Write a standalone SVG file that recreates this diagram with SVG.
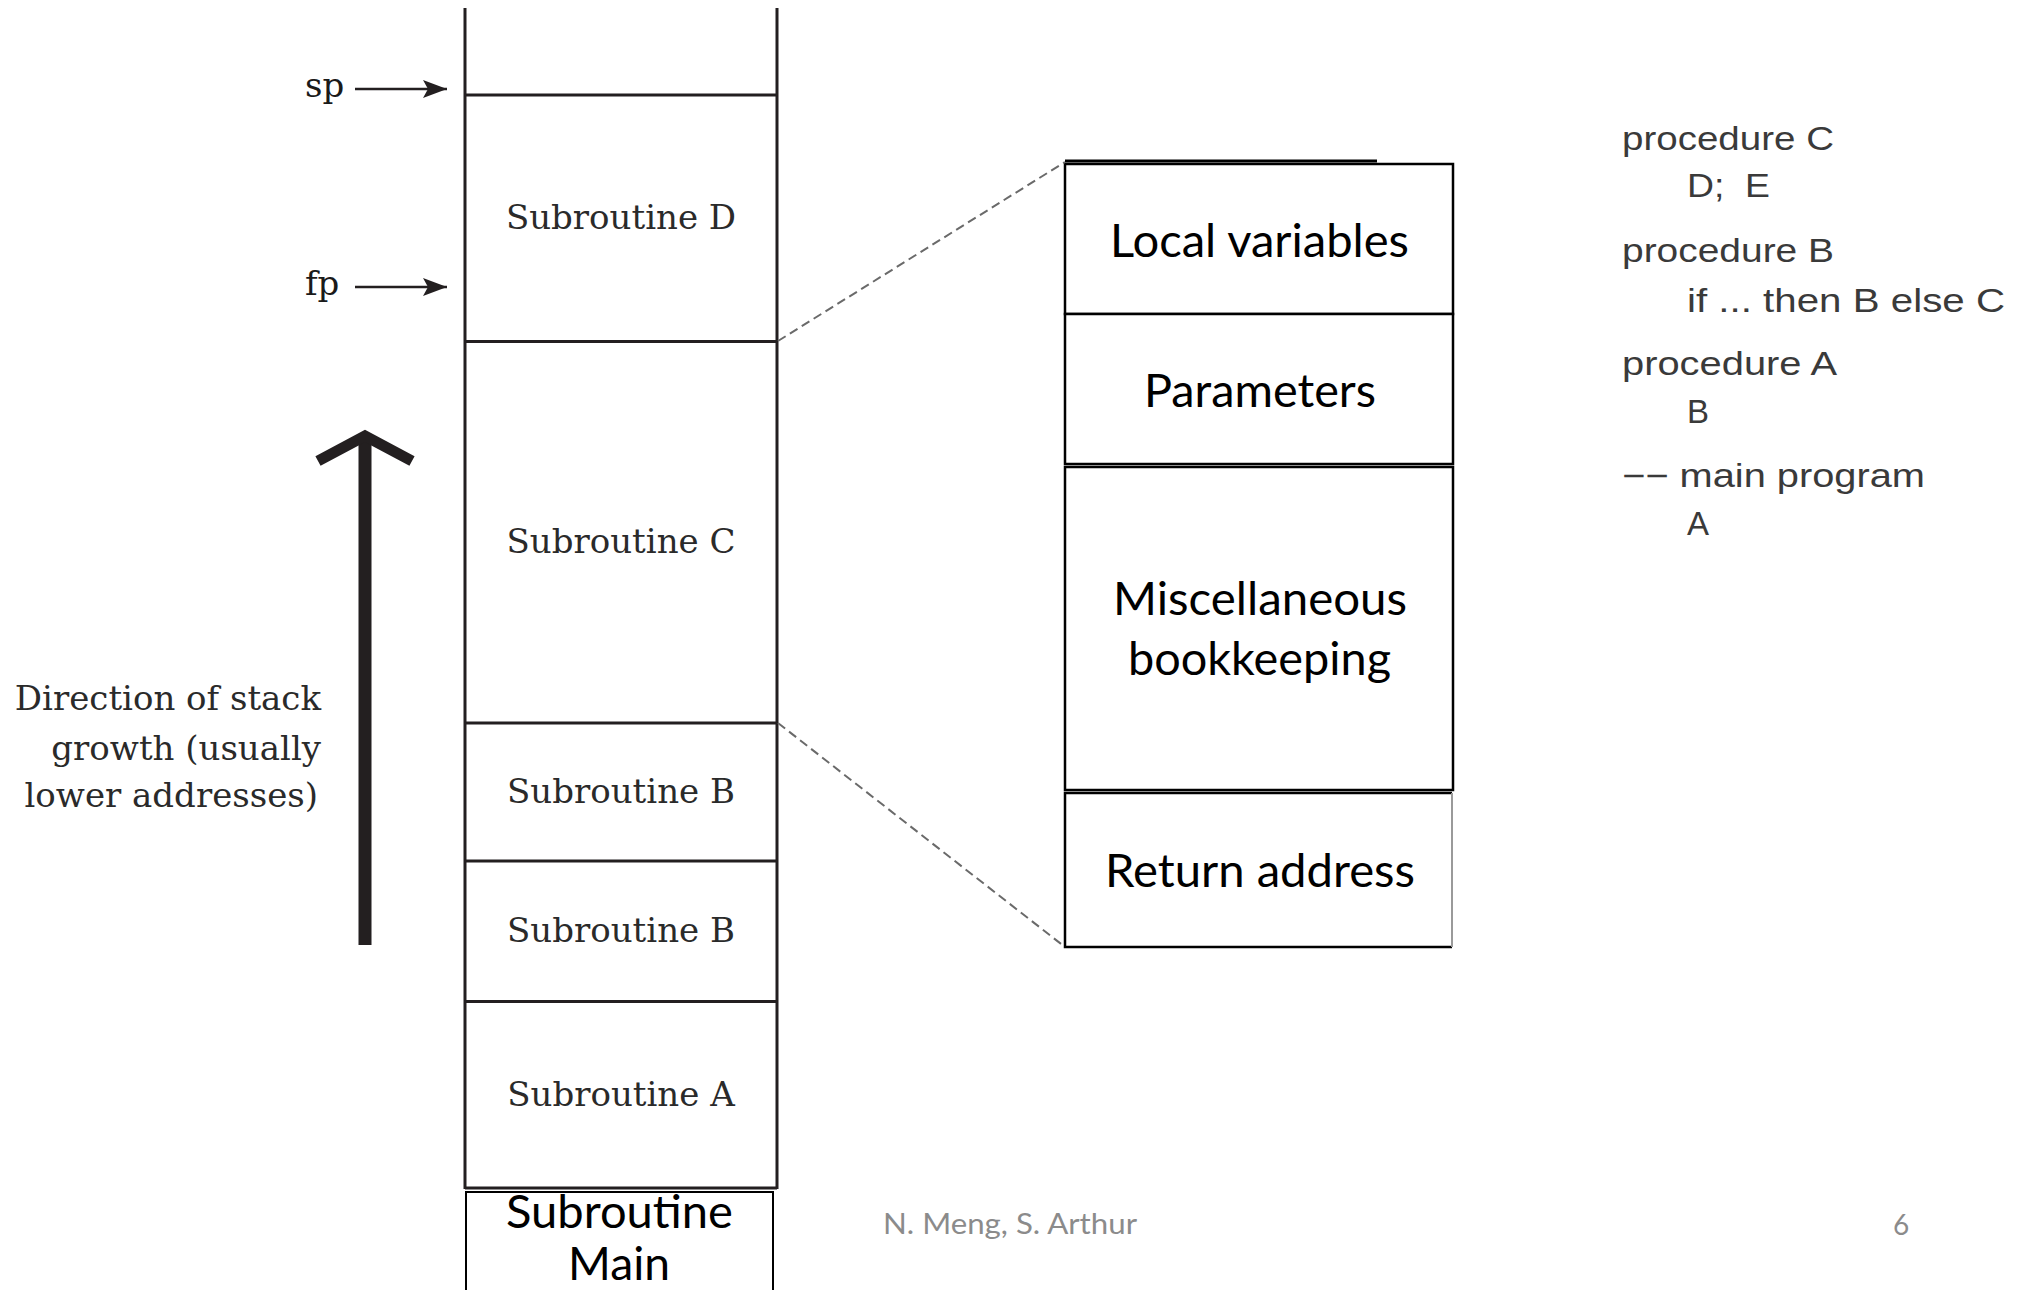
<svg xmlns="http://www.w3.org/2000/svg" width="2021" height="1290" viewBox="0 0 2021 1290">
<style>
  .stk { stroke: #231f20; stroke-width: 3; fill: none; }
  .box { stroke: #000; stroke-width: 2.5; fill: #fff; }
  .serif { font-family: "DejaVu Serif", "Liberation Serif", serif; font-size: 34px; fill: #2a2a2a; }
  .cal { font-family: Lato, "Open Sans", "Liberation Sans", sans-serif; font-size: 46px; fill: #000; text-anchor: middle; }
  .code { font-family: "Liberation Sans", Arial, sans-serif; font-size: 33px; fill: #3a3a3a; }
  .foot { font-family: Lato, "Open Sans", sans-serif; font-size: 28px; fill: #8b8b8b; }
  .dash { stroke: #6a6a6a; stroke-width: 2; stroke-dasharray: 9 5; fill: none; }
</style>
<defs>
  <marker id="ptr" viewBox="0 0 24 18" markerWidth="24" markerHeight="18" refX="24" refY="9" markerUnits="userSpaceOnUse" orient="auto">
    <path d="M0,0 L24,9 L0,18 L5,9 Z" fill="#231f20"/>
  </marker>
</defs>
<rect width="2021" height="1290" fill="#fff"/>

<g id="stack">
  <line class="stk" x1="465" y1="8" x2="465" y2="1189"/>
  <line class="stk" x1="777" y1="8" x2="777" y2="1189"/>
  <line class="stk" x1="465" y1="95" x2="777" y2="95"/>
  <line class="stk" x1="465" y1="1188" x2="777" y2="1188"/>
</g>
<g id="frame-D">
  <line class="stk" x1="465" y1="341.5" x2="777" y2="341.5"/>
  <text class="serif" x="621" y="229" text-anchor="middle">Subroutine D</text>
</g>
<g id="frame-C">
  <line class="stk" x1="465" y1="723" x2="777" y2="723"/>
  <text class="serif" x="621" y="553" text-anchor="middle">Subroutine C</text>
</g>
<g id="frame-B1">
  <line class="stk" x1="465" y1="861" x2="777" y2="861"/>
  <text class="serif" x="621" y="803" text-anchor="middle">Subroutine B</text>
</g>
<g id="frame-B2">
  <line class="stk" x1="465" y1="1001.5" x2="777" y2="1001.5"/>
  <text class="serif" x="621" y="942" text-anchor="middle">Subroutine B</text>
</g>
<g id="frame-A">
  <text class="serif" x="621" y="1106" text-anchor="middle">Subroutine A</text>
</g>
<g id="frame-main">
  <rect x="466" y="1192" width="307" height="130" fill="#fff" stroke="#000" stroke-width="2"/>
  <text class="cal" x="619.5" y="1228" textLength="227" lengthAdjust="spacingAndGlyphs">Subroutine</text>
  <text class="cal" x="619" y="1280" textLength="102" lengthAdjust="spacingAndGlyphs">Main</text>
</g>

<g id="pointers">
  <text class="serif" x="305" y="97" style="fill:#1a1a1a">sp</text>
  <text class="serif" x="305" y="295" style="fill:#1a1a1a">fp</text>
</g>

<g id="growth">
  <line x1="365" y1="436" x2="365" y2="945" stroke="#231f20" stroke-width="13"/>
  <polyline points="318,461 365,436 412,461" fill="none" stroke="#231f20" stroke-width="11" stroke-linejoin="miter"/>
  <text class="serif" text-anchor="end" x="321" y="710">Direction of stack</text>
  <text class="serif" text-anchor="end" x="321" y="760">growth (usually</text>
  <text class="serif" text-anchor="end" x="318" y="807">lower addresses)</text>
</g>

<g id="frame-detail">
  <g id="local-variables">
    <line x1="1065" y1="161" x2="1377" y2="161" stroke="#000" stroke-width="3"/>
    <rect class="box" x="1065" y="164" width="388" height="150"/>
    <text class="cal" x="1259.5" y="257" textLength="299" lengthAdjust="spacingAndGlyphs">Local variables</text>
  </g>
  <g id="parameters">
    <rect class="box" x="1065" y="314" width="388" height="150"/>
    <text class="cal" x="1260" y="407" textLength="232" lengthAdjust="spacingAndGlyphs">Parameters</text>
  </g>
  <g id="misc">
    <rect class="box" x="1065" y="467" width="388" height="323"/>
    <text class="cal" x="1260" y="615" textLength="294" lengthAdjust="spacingAndGlyphs">Miscellaneous</text>
    <text class="cal" x="1259.5" y="675" textLength="263" lengthAdjust="spacingAndGlyphs">bookkeeping</text>
  </g>
  <g id="return-address">
    <path d="M1452,793 L1065,793 L1065,947 L1452,947" fill="none" stroke="#000" stroke-width="2.5"/>
    <line x1="1452" y1="793" x2="1452" y2="947" stroke="#9a9a9a" stroke-width="2"/>
    <text class="cal" x="1260" y="887" textLength="310" lengthAdjust="spacingAndGlyphs">Return address</text>
  </g>
</g>

<g id="code">
  <text class="code" x="1622" y="150" textLength="212" lengthAdjust="spacingAndGlyphs">procedure C</text>
  <text class="code" x="1687" y="197" xml:space="preserve" textLength="83" lengthAdjust="spacingAndGlyphs">D;  E</text>
  <text class="code" x="1622" y="262" textLength="212" lengthAdjust="spacingAndGlyphs">procedure B</text>
  <text class="code" x="1687" y="312" textLength="318" lengthAdjust="spacingAndGlyphs">if ... then B else C</text>
  <text class="code" x="1622" y="375" textLength="215" lengthAdjust="spacingAndGlyphs">procedure A</text>
  <text class="code" x="1687" y="423">B</text>
  <text class="code" x="1622" y="487" textLength="303" lengthAdjust="spacingAndGlyphs">−− main program</text>
  <text class="code" x="1687" y="535">A</text>
</g>

<g id="footer">
  <text class="foot" x="883" y="1234" textLength="254" lengthAdjust="spacingAndGlyphs">N. Meng, S. Arthur</text>
  <text class="foot" x="1893" y="1235">6</text>
</g>

<g id="connectors">
  <line x1="355" y1="89" x2="447" y2="89" stroke="#231f20" stroke-width="2.5" marker-end="url(#ptr)"/>
  <line x1="355" y1="287" x2="447" y2="287" stroke="#231f20" stroke-width="2.5" marker-end="url(#ptr)"/>
  <line class="dash" x1="778" y1="341" x2="1065" y2="162"/>
  <line class="dash" x1="778" y1="723" x2="1065" y2="947"/>
</g>
</svg>
